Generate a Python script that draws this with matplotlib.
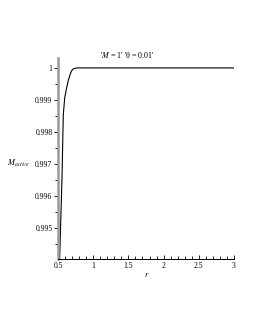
import matplotlib
matplotlib.use('Agg')
import matplotlib.pyplot as plt
from matplotlib.ticker import MultipleLocator

plt.rcParams['font.family'] = ['Liberation Serif', 'DejaVu Serif']
plt.rcParams['mathtext.fontset'] = 'stix'

# 曲線の値
r_vals = [0.515, 0.524, 0.557, 0.575, 0.595, 0.615, 0.632, 0.650, 0.670, 0.690, 0.717, 0.766, 1.0, 1.5, 2.0, 2.5, 3.0]
m_vals = [0.9935, 0.99409, 0.99659, 0.99853, 0.99906, 0.99930, 0.99947, 0.99964, 0.99978, 0.99990, 0.99997, 1.0, 1.0, 1.0, 1.0, 1.0, 1.0]

x_ticks = [0.5, 1, 1.5, 2, 2.5, 3]
x_ticklabels = ['0.5', '1', '1.5', '2', '2.5', '3']
y_ticks = [0.995, 0.996, 0.997, 0.998, 0.999, 1.0]
y_ticklabels = ['0.995', '0.996', '0.997', '0.998', '0.999', '1']

fig = plt.figure(figsize=(2.55, 3.3), dpi=100)
ax = fig.add_axes([58/255, 71/330, 176/255, 201/330])

ax.plot(r_vals, m_vals, color='black', linewidth=0.8)
ax.set_xlim(0.5, 3.0)
ax.set_ylim(0.99403, 1.00031)

ax.set_xticks(x_ticks)
ax.set_xticklabels(x_ticklabels)
ax.set_yticks(y_ticks)
ax.set_yticklabels(y_ticklabels)
ax.xaxis.set_minor_locator(MultipleLocator(0.1))
ax.yaxis.set_minor_locator(MultipleLocator(0.0005))

ax.tick_params(axis='x', which='both', direction='in', labelsize=5.5, pad=2)
ax.tick_params(axis='x', which='major', length=3, width=0.6)
ax.tick_params(axis='x', which='minor', length=2, width=0.6)
ax.tick_params(axis='y', which='both', direction='out', labelsize=5.5, pad=1)
ax.tick_params(axis='y', which='major', length=3, width=0.6)
ax.tick_params(axis='y', which='minor', length=2, width=0.6)

ax.spines['top'].set_visible(False)
ax.spines['right'].set_visible(False)
ax.spines['left'].set_color('#999999')
ax.spines['left'].set_linewidth(1.8)
ax.spines['bottom'].set_linewidth(0.7)

fig.text(0.5, (330-55)/330, "'$M$ = 1' 'θ = 0.01'", ha='center', va='center', fontsize=5.8)
fig.text(18/255, (330-163)/330, '$M_{active}$', ha='center', va='center', fontsize=6)
fig.text(147/255, (330-275)/330, '$r$', ha='center', va='center', fontsize=6)

fig.savefig('out.png', dpi=100)
